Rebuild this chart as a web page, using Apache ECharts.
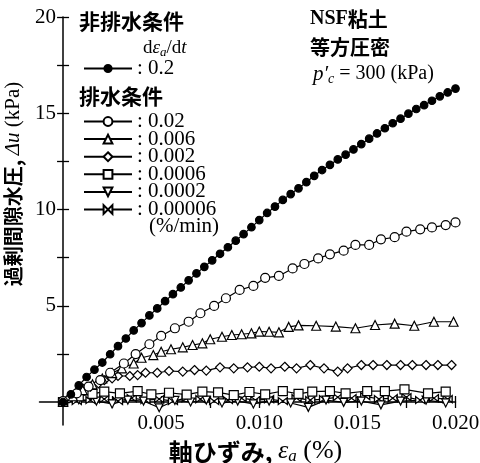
<!DOCTYPE html>
<html>
<head>
<meta charset="utf-8">
<script src="https://cdn.jsdelivr.net/npm/echarts@6/dist/echarts.min.js"></script>
<style>
  html, body { margin: 0; padding: 0; background: #fff; }
  #chart { width: 480px; height: 463px; }
</style>
</head>
<body>
<div id="chart"></div>
<script>
// Axial strain (%) vs excess pore water pressure (kPa), NSF clay, p'c = 300 kPa

// Undrained, strain rate 0.2 %/min
const undrained02 = [
  [0.0000, 0.00], [0.0004, 0.40], [0.0008, 0.86], [0.0012, 1.30], [0.0016, 1.68],
  [0.0020, 2.05], [0.0024, 2.48], [0.0028, 2.90], [0.0032, 3.30], [0.0036, 3.72],
  [0.0040, 4.10], [0.0044, 4.50], [0.0048, 4.86], [0.0052, 5.24], [0.0056, 5.60],
  [0.0060, 5.95], [0.0064, 6.32], [0.0068, 6.68], [0.0072, 7.02], [0.0076, 7.36],
  [0.0080, 7.70], [0.0084, 8.04], [0.0088, 8.38], [0.0092, 8.72], [0.0096, 9.08],
  [0.0100, 9.45], [0.0104, 9.82], [0.0108, 10.15], [0.0112, 10.50], [0.0116, 10.80],
  [0.0120, 11.10], [0.0124, 11.42], [0.0128, 11.75], [0.0132, 12.05], [0.0136, 12.32],
  [0.0140, 12.60], [0.0144, 12.85], [0.0148, 13.12], [0.0152, 13.40], [0.0156, 13.68],
  [0.0160, 13.95], [0.0164, 14.22], [0.0168, 14.48], [0.0172, 14.72], [0.0176, 14.98],
  [0.0180, 15.22], [0.0184, 15.42], [0.0188, 15.65], [0.0192, 15.88], [0.0196, 16.08],
  [0.0200, 16.28]
];

// Drained, 0.02 %/min
const drained002 = [
  [0.0000, 0.05], [0.0007, 0.45], [0.0013, 0.80], [0.0019, 1.14], [0.0024, 1.52],
  [0.0031, 2.00], [0.0037, 2.49], [0.0044, 3.00], [0.0050, 3.43], [0.0057, 3.83],
  [0.0064, 4.17], [0.0070, 4.61], [0.0077, 4.99], [0.0083, 5.39], [0.0090, 5.82],
  [0.0097, 6.03], [0.0103, 6.45], [0.0110, 6.55], [0.0117, 6.94], [0.0123, 7.17],
  [0.0130, 7.46], [0.0136, 7.67], [0.0143, 7.86], [0.0149, 8.16], [0.0156, 8.16],
  [0.0162, 8.45], [0.0169, 8.56], [0.0175, 8.85], [0.0182, 8.97], [0.0188, 9.07],
  [0.0195, 9.19], [0.0200, 9.33]
];

// Drained, 0.006 %/min
const drained0006 = [
  [0.0000, 0.00], [0.0005, 0.30], [0.0010, 0.62], [0.0015, 0.92], [0.0020, 1.22],
  [0.0025, 1.50], [0.0030, 1.75], [0.0036, 2.00], [0.0040, 2.30], [0.0046, 2.44],
  [0.0050, 2.61], [0.0055, 2.74], [0.0061, 2.84], [0.0066, 2.96], [0.0071, 3.05],
  [0.0075, 3.26], [0.0081, 3.39], [0.0086, 3.48], [0.0091, 3.52], [0.0096, 3.57],
  [0.0100, 3.66], [0.0105, 3.65], [0.0110, 3.62], [0.0115, 3.90], [0.0120, 3.98],
  [0.0129, 3.96], [0.0139, 3.92], [0.0149, 3.83], [0.0159, 4.00], [0.0169, 4.07],
  [0.0179, 3.96], [0.0189, 4.17], [0.0199, 4.17]
];

// Drained, 0.002 %/min
const drained00002 = [
  [0.0000, 0.00], [0.0003, 0.19], [0.0007, 0.45], [0.0010, 0.70], [0.0014, 0.80],
  [0.0018, 0.97], [0.0021, 1.13], [0.0025, 1.23], [0.0028, 1.35], [0.0034, 1.35],
  [0.0038, 1.40], [0.0042, 1.52], [0.0048, 1.52], [0.0054, 1.61], [0.0061, 1.58],
  [0.0067, 1.66], [0.0073, 1.63], [0.0080, 1.80], [0.0087, 1.75], [0.0094, 1.80],
  [0.0100, 1.83], [0.0106, 1.75], [0.0113, 1.83], [0.0119, 1.75], [0.0126, 1.92],
  [0.0133, 1.75], [0.0140, 1.58], [0.0145, 1.75], [0.0152, 1.92], [0.0158, 1.92],
  [0.0165, 1.92], [0.0172, 1.92], [0.0178, 1.92], [0.0185, 1.92], [0.0191, 1.92],
  [0.0198, 1.92]
];

// Drained, 0.0006 %/min
const drained000006 = [
  [0.0000, 0.00], [0.0008, 0.30], [0.0015, 0.42], [0.0021, 0.54], [0.0029, 0.45],
  [0.0038, 0.56], [0.0045, 0.40], [0.0054, 0.48], [0.0063, 0.38], [0.0071, 0.54],
  [0.0079, 0.50], [0.0087, 0.36], [0.0095, 0.52], [0.0103, 0.40], [0.0112, 0.57],
  [0.0120, 0.42], [0.0127, 0.54], [0.0136, 0.57], [0.0144, 0.45], [0.0155, 0.57],
  [0.0164, 0.57], [0.0174, 0.66], [0.0186, 0.45], [0.0195, 0.54]
];

// Drained, 0.0002 %/min
const drained0000002 = [
  [0.0000, 0.00], [0.0008, 0.12], [0.0017, 0.05], [0.0025, -0.10], [0.0033, 0.10],
  [0.0041, 0.05], [0.0049, -0.30], [0.0057, 0.08], [0.0065, 0.00], [0.0073, 0.10],
  [0.0081, -0.05], [0.0089, 0.05], [0.0097, -0.10], [0.0105, 0.05], [0.0116, -0.05],
  [0.0125, -0.28], [0.0134, 0.10], [0.0143, -0.02], [0.0152, 0.05], [0.0162, -0.15],
  [0.0172, 0.05], [0.0185, 0.10], [0.0195, -0.05]
];

// Drained, 0.00006 %/min
const drained00000006 = [
  [0.0000, 0.00], [0.0007, 0.05], [0.0014, 0.10], [0.0021, 0.15], [0.0028, 0.05],
  [0.0035, 0.20], [0.0042, 0.10], [0.0049, 0.15], [0.0056, 0.05], [0.0063, 0.20],
  [0.0070, 0.15], [0.0077, 0.05], [0.0084, 0.10], [0.0091, 0.20], [0.0098, 0.10],
  [0.0105, 0.15], [0.0112, 0.05], [0.0119, 0.20], [0.0126, 0.10], [0.0133, 0.15],
  [0.0140, 0.25], [0.0147, 0.20], [0.0154, 0.30], [0.0161, 0.15], [0.0168, 0.20],
  [0.0175, 0.25], [0.0182, 0.10], [0.0189, 0.20], [0.0196, 0.15]
];

// Legend names (strain rates, %/min)
const undrainedRates = ['0.2'];
const drainedRates = ['0.02', '0.006', '0.002', '0.0006', '0.0002', '0.00006'];

// Tick positions and labels
const xTickValues = [0.0025, 0.005, 0.0075, 0.010, 0.0125, 0.015, 0.0175, 0.020];
const xLabelValues = [0.005, 0.010, 0.015, 0.020];
const yTickValues = [2.5, 5, 7.5, 10, 12.5, 15, 17.5, 20];
const yLabelValues = [5, 10, 15, 20];

const SERIF = 'Liberation Serif';
const CJK = 'Noto Sans CJK JP';
const INK = '#000';

// Axes run slightly past the origin so the two axis lines cross there
const X_MIN = -0.0012, X_MAX = 0.020;
const Y_MIN = -1.2, Y_MAX = 20;

const bowtie = 'path://M0,0L10,5L0,10Z M20,0L10,5L20,10Z';

function lineSeries(name, data, symbol, size, filled, extra) {
  return Object.assign({
    type: 'line',
    name: name,
    data: data,
    xAxisIndex: 0,
    yAxisIndex: 0,
    symbol: symbol,
    symbolSize: size,
    showAllSymbol: true,
    animation: false,
    silent: true,
    lineStyle: { color: INK, width: 1.2 },
    itemStyle: { color: filled ? INK : '#fff', borderColor: INK, borderWidth: 1.2 },
    emphasis: { disabled: true }
  }, extra || {});
}

const tickStyle = { lineStyle: { color: INK, width: 1.3 }, length: 6 };
const plain = { fontWeight: 'normal', color: INK };

const chart = echarts.init(document.getElementById('chart'), null, { renderer: 'canvas' });

chart.setOption({
  backgroundColor: '#fff',
  animation: false,
  grid: { left: 39.5, right: 24.5, top: 17, bottom: 37.9, outerBoundsMode: 'none' },
  title: [
    { text: '非排水条件', left: 79, top: 11, padding: 0,
      textStyle: { fontFamily: CJK, fontSize: 21, fontWeight: 'bold', color: INK } },
    { text: '{n|d}{i|ε}{s|a}{n|/d}{i|t}', left: 143, top: 37, padding: 0,
      textStyle: Object.assign({ rich: {
        n: Object.assign({ fontFamily: SERIF, fontSize: 19 }, plain),
        i: Object.assign({ fontFamily: SERIF, fontSize: 19, fontStyle: 'italic' }, plain),
        s: Object.assign({ fontFamily: SERIF, fontSize: 13, fontStyle: 'italic', padding: [9, 0, 0, 0] }, plain)
      } }, plain) },
    { text: '排水条件', left: 79, top: 86, padding: 0,
      textStyle: { fontFamily: CJK, fontSize: 21, fontWeight: 'bold', color: INK } },
    { text: '(%/min)', left: 149, top: 216, padding: 0,
      textStyle: Object.assign({ fontFamily: SERIF, fontSize: 21 }, plain) },
    { text: '{a|NSF}{b|粘土}', left: 310, top: 9, padding: 0,
      textStyle: { rich: {
        a: { fontFamily: SERIF, fontSize: 20, fontWeight: 'bold', color: INK },
        b: { fontFamily: CJK, fontSize: 20, fontWeight: 'bold', color: INK }
      } } },
    { text: '等方圧密', left: 310, top: 37, padding: 0,
      textStyle: { fontFamily: CJK, fontSize: 20, fontWeight: 'bold', color: INK } },
    { text: '{i|p′}{s|c}{n| = 300 (kPa)}', left: 313, top: 62, padding: 0,
      textStyle: Object.assign({ rich: {
        i: Object.assign({ fontFamily: SERIF, fontSize: 21, fontStyle: 'italic' }, plain),
        s: Object.assign({ fontFamily: SERIF, fontSize: 14, fontStyle: 'italic', padding: [10, 0, 0, 0] }, plain),
        n: Object.assign({ fontFamily: SERIF, fontSize: 20 }, plain)
      } }, plain) }
  ],
  legend: [
    {
      data: undrainedRates, orient: 'vertical', left: 83, top: 58, padding: 0,
      itemWidth: 48, itemHeight: 9, itemGap: 0, selectedMode: false,
      formatter: ': {name}',
      textStyle: { fontFamily: SERIF, fontSize: 21, color: INK }
    },
    {
      data: drainedRates, orient: 'vertical', left: 83, top: 111, padding: 0,
      itemWidth: 48, itemHeight: 11, itemGap: -3.4, selectedMode: false,
      formatter: ': {name}',
      textStyle: { fontFamily: SERIF, fontSize: 21, color: INK }
    }
  ],
  xAxis: [
    {
      type: 'value', position: 'bottom', min: X_MIN, max: X_MAX,
      axisLine: { show: true, onZero: true, onZeroAxisIndex: 0, lineStyle: { color: INK, width: 1.5 } },
      axisTick: Object.assign({ show: true, inside: false, customValues: xTickValues }, tickStyle),
      axisLabel: {
        show: true, customValues: xLabelValues, margin: -12.5,
        fontFamily: SERIF, fontSize: 21, color: INK,
        formatter: v => v.toFixed(3)
      },
      splitLine: { show: false },
      name: '{c|軸ひずみ, }{i|ε}{s|a}{n| (%)}',
      nameLocation: 'middle', nameGap: 9,
      nameTextStyle: {
        padding: [0, 0, 0, 16],
        rich: {
          c: { fontFamily: CJK, fontSize: 24, fontWeight: 'bold', color: INK },
          i: { fontFamily: SERIF, fontSize: 26, fontStyle: 'italic', color: INK },
          s: { fontFamily: SERIF, fontSize: 17, fontStyle: 'italic', color: INK, padding: [11, 0, 0, 0] },
          n: { fontFamily: SERIF, fontSize: 26, color: INK }
        }
      }
    },
    {
      type: 'value', position: 'bottom', min: X_MIN, max: X_MAX,
      axisLine: { show: false, onZero: true, onZeroAxisIndex: 0 },
      axisTick: Object.assign({ show: true, inside: true, customValues: xTickValues }, tickStyle),
      axisLabel: { show: false },
      splitLine: { show: false }
    }
  ],
  yAxis: [
    {
      type: 'value', position: 'left', min: Y_MIN, max: Y_MAX,
      axisLine: { show: true, onZero: true, onZeroAxisIndex: 0, lineStyle: { color: INK, width: 1.5 } },
      axisTick: Object.assign({ show: true, inside: false, customValues: yTickValues }, tickStyle),
      axisLabel: {
        show: true, customValues: yLabelValues, margin: -16.5,
        fontFamily: SERIF, fontSize: 21, color: INK
      },
      splitLine: { show: false },
      name: '{c|過剰間隙水圧, }{i|Δu}{n| (kPa)}',
      nameLocation: 'middle', nameGap: 9,
      nameTextStyle: {
        padding: [0, 0, 0, 74],
        rich: {
          c: { fontFamily: CJK, fontSize: 20, fontWeight: 'bold', color: INK },
          i: { fontFamily: SERIF, fontSize: 21, fontStyle: 'italic', color: INK },
          n: { fontFamily: SERIF, fontSize: 21, color: INK }
        }
      }
    },
    {
      type: 'value', position: 'left', min: Y_MIN, max: Y_MAX,
      axisLine: { show: false, onZero: true, onZeroAxisIndex: 0 },
      axisTick: Object.assign({ show: true, inside: true, customValues: yTickValues }, tickStyle),
      axisLabel: { show: false },
      splitLine: { show: false }
    }
  ],
  series: [
    lineSeries('0.00006', drained00000006, bowtie, [9, 7], false),
    lineSeries('0.0002', drained0000002, 'triangle', 8, false, { symbolRotate: 180 }),
    lineSeries('0.0006', drained000006, 'rect', 9, false),
    lineSeries('0.002', drained00002, 'diamond', 9, false),
    lineSeries('0.006', drained0006, 'triangle', 9, false),
    lineSeries('0.02', drained002, 'circle', 9, false),
    lineSeries('0.2', undrained02, 'circle', 7.5, true)
  ]
});
</script>
</body>
</html>
